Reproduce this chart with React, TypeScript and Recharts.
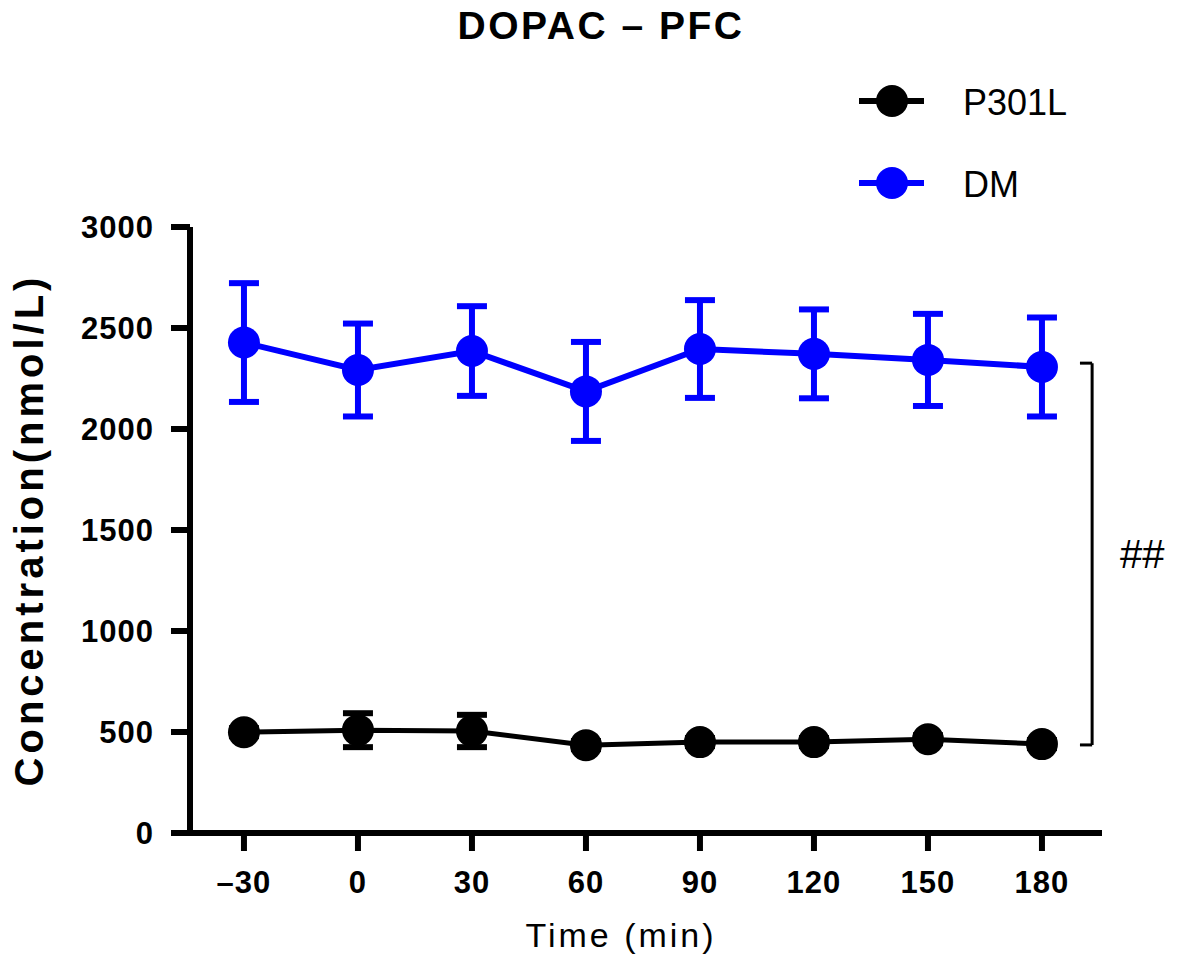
import { LineChart, Line, XAxis, YAxis, ErrorBar, ReferenceLine, Legend, Label } from 'recharts';

const FONT = '"Liberation Sans", Arial, Helvetica, sans-serif';

const TIMES = [-30, 0, 30, 60, 90, 120, 150, 180];
const Y_TICKS = [0, 500, 1000, 1500, 2000, 2500, 3000];

const P301L_MEAN = [499, 509, 505, 435, 450, 450, 464, 440];
const P301L_SEM = [20, 84, 80, 20, 20, 20, 20, 20];

const DM_MEAN = [2428, 2292, 2386, 2186, 2396, 2372, 2342, 2307];
const DM_SEM = [294, 230, 222, 245, 242, 220, 228, 245];

// significance bracket between groups (top / bottom, in nmol/L)
const BRACKET_Y = [2326, 436];
const BRACKET_X = [190, 193.2];

const BLUE = '#0000ff';

const data = TIMES.map((t, i) => ({
  time: t,
  p301l: P301L_MEAN[i],
  p301lErr: P301L_SEM[i],
  dm: DM_MEAN[i],
  dmErr: DM_SEM[i],
}));

const LEGEND_ITEMS = [
  { name: 'P301L', color: '#000' },
  { name: 'DM', color: BLUE },
];

function renderLegend() {
  return (
    <svg width={260} height={150}>
      {LEGEND_ITEMS.map((it, i) => {
        const cy = 31 + i * 82;
        return (
          <g key={it.name}>
            <line x1={9} x2={74} y1={cy} y2={cy} stroke={it.color} strokeWidth={6} />
            <circle cx={42} cy={cy} r={16} fill={it.color} />
            <text x={113} y={cy + 14} fontSize={36} fontFamily={FONT} fill="#000">
              {it.name}
            </text>
          </g>
        );
      })}
    </svg>
  );
}

const tickStyle = { fill: '#000', fontSize: 31, fontWeight: 'bold', fontFamily: FONT, letterSpacing: 1 };

export default function App() {
  return (
    <div style={{ position: 'absolute', left: 0, top: 0, width: 1181, height: 964, background: '#fff' }}>
      <div
        style={{
          position: 'absolute',
          left: 0,
          top: 6,
          width: 1202,
          textAlign: 'center',
          fontFamily: FONT,
          fontWeight: 'bold',
          fontSize: 39,
          lineHeight: '39px',
          letterSpacing: 2.5,
        }}
      >
        DOPAC – PFC
      </div>
      <LineChart width={1181} height={964} data={data} margin={{ top: 227, right: 79, bottom: 0, left: 0 }}>
        <XAxis
          type="number"
          dataKey="time"
          domain={[-44.2, 195.8]}
          ticks={TIMES}
          height={131}
          tickSize={18}
          tickMargin={20}
          tickFormatter={(v: number) => String(v).replace('-', '–')}
          stroke="#000"
          strokeWidth={6}
          axisLine={{ stroke: '#000', strokeWidth: 6 }}
          tickLine={{ stroke: '#000', strokeWidth: 6 }}
          tick={tickStyle}
        >
          <Label
            content={() => (
              <text x={621} y={947} textAnchor="middle" fontSize={34} fontFamily={FONT} fill="#000" letterSpacing={3}>
                Time (min)
              </text>
            )}
          />
        </XAxis>
        <YAxis
          type="number"
          domain={[0, 3000]}
          ticks={Y_TICKS}
          width={190}
          tickSize={19}
          tickMargin={17}
          stroke="#000"
          strokeWidth={6}
          axisLine={{ stroke: '#000', strokeWidth: 6 }}
          tickLine={{ stroke: '#000', strokeWidth: 6 }}
          tick={tickStyle}
        >
          <Label
            content={() => (
              <text
                x={43}
                y={530}
                transform="rotate(-90, 43, 530)"
                textAnchor="middle"
                fontSize={40}
                fontWeight="bold"
                fontFamily={FONT}
                fill="#000"
                letterSpacing={4}
              >
                Concentration(nmol/L)
              </text>
            )}
          />
        </YAxis>
        <Legend
          layout="vertical"
          align="center"
          verticalAlign="middle"
          content={renderLegend}
          wrapperStyle={{ left: 850, top: 70, width: 260, height: 150 }}
        />
        <Line
          dataKey="p301l"
          name="P301L"
          stroke="#000"
          strokeWidth={5}
          dot={{ r: 16, fill: '#000', strokeWidth: 0 }}
          activeDot={false}
          isAnimationActive={false}
        >
          <ErrorBar dataKey="p301lErr" direction="y" width={15} stroke="#000" strokeWidth={6} isAnimationActive={false} />
        </Line>
        <Line
          dataKey="dm"
          name="DM"
          stroke={BLUE}
          strokeWidth={6}
          dot={{ r: 16, fill: BLUE, strokeWidth: 0 }}
          activeDot={false}
          isAnimationActive={false}
        >
          <ErrorBar dataKey="dmErr" direction="y" width={15} stroke={BLUE} strokeWidth={6} isAnimationActive={false} />
        </Line>
        <ReferenceLine
          segment={[
            { x: BRACKET_X[1], y: BRACKET_Y[0] },
            { x: BRACKET_X[1], y: BRACKET_Y[1] },
          ]}
          stroke="#000"
          strokeWidth={3}
          ifOverflow="visible"
          label={{ value: '##', position: 'right', offset: 28, fill: '#000', fontSize: 40, fontFamily: FONT }}
        />
        <ReferenceLine
          segment={[
            { x: BRACKET_X[0], y: BRACKET_Y[0] },
            { x: BRACKET_X[1], y: BRACKET_Y[0] },
          ]}
          stroke="#000"
          strokeWidth={3}
          ifOverflow="visible"
        />
        <ReferenceLine
          segment={[
            { x: BRACKET_X[0], y: BRACKET_Y[1] },
            { x: BRACKET_X[1], y: BRACKET_Y[1] },
          ]}
          stroke="#000"
          strokeWidth={3}
          ifOverflow="visible"
        />
      </LineChart>
    </div>
  );
}
